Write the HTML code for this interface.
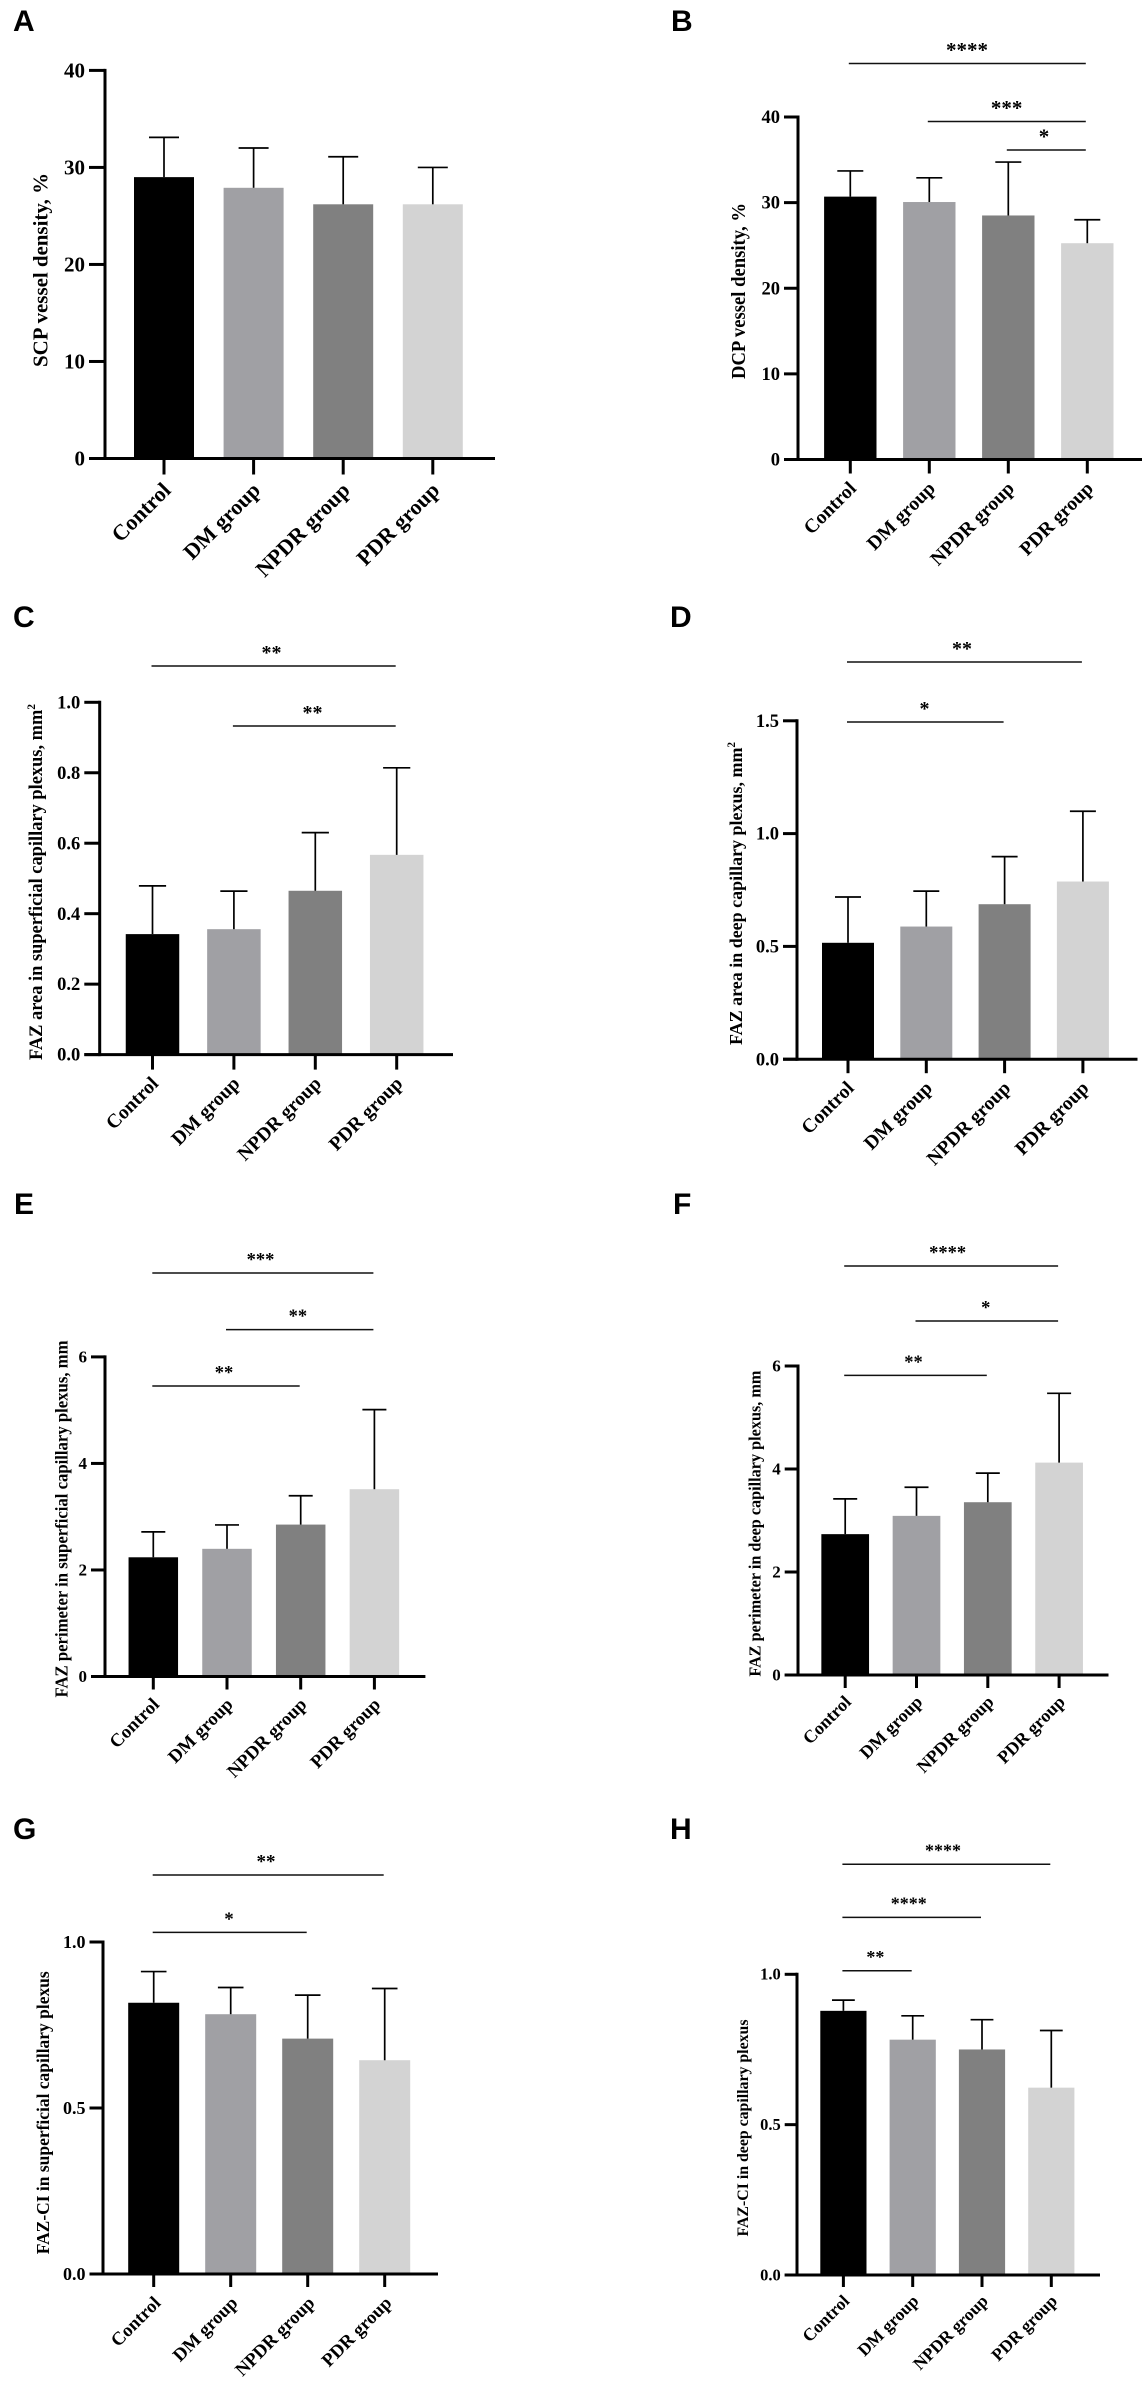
<!DOCTYPE html>
<html lang="en">
<head>
<meta charset="utf-8">
<title>OCTA vessel density and FAZ metrics by group</title>
<style>
html,body{margin:0;padding:0;background:#fff;}
body{width:1144px;height:2382px;overflow:hidden;}
svg{display:block;}
text{font-family:"Liberation Serif",serif;font-weight:bold;fill:#000;}
.letter{font-family:"Liberation Sans",sans-serif;font-weight:bold;font-size:30px;}
</style>
</head>
<body>
<svg id="figure" xmlns="http://www.w3.org/2000/svg" width="1144" height="2382" viewBox="0 0 1144 2382"></svg>
<script>
// Shared categories
const categories = ['Control', 'DM group', 'NPDR group', 'PDR group'];

// Panel A
const meansA = [29, 27.9, 26.2, 26.2];
const errorTopsA = [33.1, 32, 31.1, 30];
const ticksA = [0, 10, 20, 30, 40];
const tickLabelsA = ['0', '10', '20', '30', '40'];
// Panel B
const meansB = [30.7, 30.07, 28.5, 25.26];
const errorTopsB = [33.7, 32.9, 34.74, 28];
const ticksB = [0, 10, 20, 30, 40];
const tickLabelsB = ['0', '10', '20', '30', '40'];
// Panel C
const meansC = [0.342, 0.356, 0.465, 0.567];
const errorTopsC = [0.479, 0.464, 0.63, 0.814];
const ticksC = [0, 0.2, 0.4, 0.6, 0.8, 1];
const tickLabelsC = ['0.0', '0.2', '0.4', '0.6', '0.8', '1.0'];
// Panel D
const meansD = [0.516, 0.588, 0.687, 0.7875];
const errorTopsD = [0.719, 0.745, 0.898, 1.099];
const ticksD = [0, 0.5, 1, 1.5];
const tickLabelsD = ['0.0', '0.5', '1.0', '1.5'];
// Panel E
const meansE = [2.238, 2.397, 2.852, 3.516];
const errorTopsE = [2.715, 2.845, 3.393, 5.01];
const ticksE = [0, 2, 4, 6];
const tickLabelsE = ['0', '2', '4', '6'];
// Panel F
const meansF = [2.735, 3.09, 3.355, 4.124];
const errorTopsF = [3.42, 3.646, 3.92, 5.47];
const ticksF = [0, 2, 4, 6];
const tickLabelsF = ['0', '2', '4', '6'];
// Panel G
const meansG = [0.817, 0.7825, 0.709, 0.644];
const errorTopsG = [0.911, 0.863, 0.84, 0.86];
const ticksG = [0, 0.5, 1];
const tickLabelsG = ['0.0', '0.5', '1.0'];
// Panel H
const meansH = [0.8785, 0.7826, 0.75, 0.623];
const errorTopsH = [0.914, 0.862, 0.849, 0.813];
const ticksH = [0, 0.5, 1];
const tickLabelsH = ['0.0', '0.5', '1.0'];

// Colours of the four groups
const barColors = ['#000000', '#a0a0a4', '#808080', '#d3d3d3'];

const panels = [
  {id:'a', letter:'A', lx:13, ly:31, means:meansA, tops:errorTopsA, ticks:ticksA, labels:tickLabelsA, max:40,
   axisX:105, y0:458.5, yTop:70.4, xLeft:89, xRight:495, x0:164, step:89.6, barW:60, cap:15, tickLen:16, tickFont:21, catFont:22,
   title:'SCP vessel density, %', titleX:47.5, titleY:270, titleLen:194, titleFont:21.5, catDx:8, catDy:33, brackets:[]},
  {id:'b', letter:'B', lx:671, ly:31, means:meansB, tops:errorTopsB, ticks:ticksB, labels:tickLabelsB, max:40,
   axisX:798, y0:459.5, yTop:117, xLeft:784, xRight:1142, x0:850.3, step:79, barW:52.4, cap:13, tickLen:14, tickFont:18.5, catFont:19.6,
   title:'DCP vessel density, %', titleX:745, titleY:291, titleLen:176, titleFont:19.5, catDx:7, catDy:30,
   brackets:[{from:0,to:3,y:63.5,text:'****',cx:967,font:21,dx:-1.5},{from:1,to:3,y:121.5,text:'***',cx:1006.6,font:21,dx:-1.5},{from:2,to:3,y:150,text:'*',cx:1044,font:21,dx:-1.5}]},
  {id:'c', letter:'C', lx:13, ly:627, means:meansC, tops:errorTopsC, ticks:ticksC, labels:tickLabelsC, max:1,
   axisX:99.7, y0:1054.6, yTop:702.3, xLeft:84.3, xRight:453, x0:152.5, step:81.4, barW:53.5, cap:13.6, tickLen:15, tickFont:18.5, catFont:19.6,
   title:'FAZ area in superficial capillary plexus, mm', sup:'2', titleX:42, titleY:882, titleLen:356, titleFont:18.5, catDx:7, catDy:30,
   brackets:[{from:0,to:3,y:666,text:'**',cx:271.5,font:20,dx:-1},{from:1,to:3,y:726,text:'**',cx:312.5,font:20,dx:-1}]},
  {id:'d', letter:'D', lx:670, ly:627, means:meansD, tops:errorTopsD, ticks:ticksD, labels:tickLabelsD, max:1.5,
   axisX:797, y0:1059.2, yTop:720.8, xLeft:783, xRight:1137.5, x0:848, step:78.3, barW:52, cap:13, tickLen:14, tickFont:18.5, catFont:19.6,
   title:'FAZ area in deep capillary plexus, mm', sup:'2', titleX:742, titleY:893.5, titleLen:303, titleFont:18, catDx:7, catDy:30,
   brackets:[{from:0,to:3,y:662,text:'**',cx:962,font:20,dx:-1},{from:0,to:2,y:722,text:'*',cx:924.5,font:20,dx:-1}]},
  {id:'e', letter:'E', lx:14, ly:1214, means:meansE, tops:errorTopsE, ticks:ticksE, labels:tickLabelsE, max:6,
   axisX:105, y0:1676.5, yTop:1356.9, xLeft:91, xRight:425.4, x0:153.3, step:73.7, barW:49.5, cap:12, tickLen:13, tickFont:17, catFont:18.6,
   title:'FAZ perimeter in superficial capillary plexus, mm', titleX:67.5, titleY:1519, titleLen:357, titleFont:18, catDx:7, catDy:29,
   brackets:[{from:0,to:3,y:1273,text:'***',cx:260.5,font:18.5,dx:-1},{from:1,to:3,y:1329.6,text:'**',cx:297.9,font:18.5,dx:-1},{from:0,to:2,y:1386,text:'**',cx:224,font:18.5,dx:-1}]},
  {id:'f', letter:'F', lx:673, ly:1214, means:meansF, tops:errorTopsF, ticks:ticksF, labels:tickLabelsF, max:6,
   axisX:798, y0:1675, yTop:1366, xLeft:784.7, xRight:1108.5, x0:845.2, step:71.3, barW:47.7, cap:12, tickLen:13, tickFont:17, catFont:18,
   title:'FAZ perimeter in deep capillary plexus, mm', titleX:760.5, titleY:1523.6, titleLen:306, titleFont:17, catDx:7, catDy:28,
   brackets:[{from:0,to:3,y:1266,text:'****',cx:947.6,font:18.5,dx:-1},{from:1,to:3,y:1321,text:'*',cx:985.7,font:18.5,dx:-1},{from:0,to:2,y:1375.4,text:'**',cx:913.5,font:18.5,dx:-1}]},
  {id:'g', letter:'G', lx:13, ly:1839, means:meansG, tops:errorTopsG, ticks:ticksG, labels:tickLabelsG, max:1,
   axisX:103, y0:2274, yTop:1942, xLeft:89.5, xRight:438, x0:153.7, step:77, barW:51, cap:12.8, tickLen:13, tickFont:18, catFont:18.6,
   title:'FAZ-CI in superficial capillary plexus', titleX:49, titleY:2112.8, titleLen:283, titleFont:17.5, catDx:8, catDy:30,
   brackets:[{from:0,to:3,y:1875,text:'**',cx:266,font:19,dx:-1},{from:0,to:2,y:1932.4,text:'*',cx:229,font:19,dx:-1}]},
  {id:'h', letter:'H', lx:670, ly:1839, means:meansH, tops:errorTopsH, ticks:ticksH, labels:tickLabelsH, max:1,
   axisX:797, y0:2275, yTop:1974.3, xLeft:784.7, xRight:1100, x0:843.4, step:69.3, barW:46.2, cap:11.4, tickLen:12, tickFont:16.5, catFont:17.5,
   title:'FAZ-CI in deep capillary plexus', titleX:748, titleY:2128, titleLen:217, titleFont:16, catDx:7, catDy:27,
   brackets:[{from:0,to:3,y:1864.3,text:'****',cx:943,font:18,dx:-1},{from:0,to:2,y:1917.4,text:'****',cx:908.7,font:18,dx:-1},{from:0,to:1,y:1970.8,text:'**',cx:875.4,font:18,dx:-1}]}
];

const NS = 'http://www.w3.org/2000/svg';
const figure = document.getElementById('figure');

function make(tag, attrs, parent) {
  const node = document.createElementNS(NS, tag);
  for (const key in attrs) node.setAttribute(key, attrs[key]);
  parent.appendChild(node);
  return node;
}

panels.forEach(function (p) {
  // Axis functions
  const yScale = function (v) { return p.y0 - (v / p.max) * (p.y0 - p.yTop); };
  const xScale = function (i) { return p.x0 + i * p.step; };

  const group = make('g', {}, figure);
  
  

  const letter = make('text', {x: p.lx, y: p.ly, 'class': 'letter'}, group);
  letter.textContent = p.letter;
  
  

  // Bars and error bars
  categories.forEach(function (cat, i) {
    const cx = xScale(i);
    const top = yScale(p.means[i]);
    const bar = make('rect', {x: cx - p.barW / 2, y: top, width: p.barW, height: p.y0 - top, fill: barColors[i]}, group);
    
    

    const errTop = yScale(p.tops[i]);
    const stem = make('line', {x1: cx, x2: cx, y1: top, y2: errTop, stroke: '#000', 'stroke-width': 1.7}, group);
    
    

    const cap = make('line', {x1: cx - p.cap, x2: cx + p.cap, y1: errTop, y2: errTop, stroke: '#000', 'stroke-width': 1.7}, group);
    
    

    const tick = make('line', {x1: cx, x2: cx, y1: p.y0, y2: p.y0 + p.tickLen, stroke: '#000', 'stroke-width': 3}, group);
    
    

    const ax = cx + p.catDx;
    const ay = p.y0 + p.catDy;
    const label = make('text', {x: ax, y: ay, 'text-anchor': 'end', 'font-size': p.catFont, transform: 'rotate(-45 ' + ax + ' ' + ay + ')'}, group);
    label.textContent = cat;
    
    
  });

  // Axes
  const yAxis = make('line', {x1: p.axisX, x2: p.axisX, y1: p.yTop - 1.5, y2: p.y0 + 1.5, stroke: '#000', 'stroke-width': 3}, group);
  
  

  const xAxis = make('line', {x1: p.xLeft, x2: p.xRight, y1: p.y0, y2: p.y0, stroke: '#000', 'stroke-width': 3}, group);
  
  

  p.ticks.forEach(function (v, i) {
    const y = yScale(v);
    const tick = make('line', {x1: p.xLeft, x2: p.axisX, y1: y, y2: y, stroke: '#000', 'stroke-width': 3}, group);
    
    

    const label = make('text', {x: p.xLeft - 4, y: y + p.tickFont * 0.33, 'text-anchor': 'end', 'font-size': p.tickFont}, group);
    label.textContent = p.labels[i];
    
    
  });

  // Y axis title
  const title = make('text', {
    x: p.titleX, y: p.titleY, 'text-anchor': 'middle', 'font-size': p.titleFont,
    textLength: p.titleLen, lengthAdjust: 'spacingAndGlyphs',
    transform: 'rotate(-90 ' + p.titleX + ' ' + p.titleY + ')'
  }, group);
  title.textContent = p.title;
  if (p.sup) {
    const sup = make('tspan', {dy: -p.titleFont * 0.38, 'font-size': p.titleFont * 0.62}, title);
    sup.textContent = p.sup;
  }
  
  

  // Significance brackets
  p.brackets.forEach(function (b, i) {
    const line = make('line', {x1: xScale(b.from) + b.dx, x2: xScale(b.to) + b.dx, y1: b.y, y2: b.y, stroke: '#111', 'stroke-width': 1.5}, group);
    
    

    const stars = make('text', {x: b.cx, y: b.y - 16 + b.font * 0.46, 'text-anchor': 'middle', 'font-size': b.font}, group);
    stars.textContent = b.text;
    
    
  });
});
</script>
</body>
</html>
